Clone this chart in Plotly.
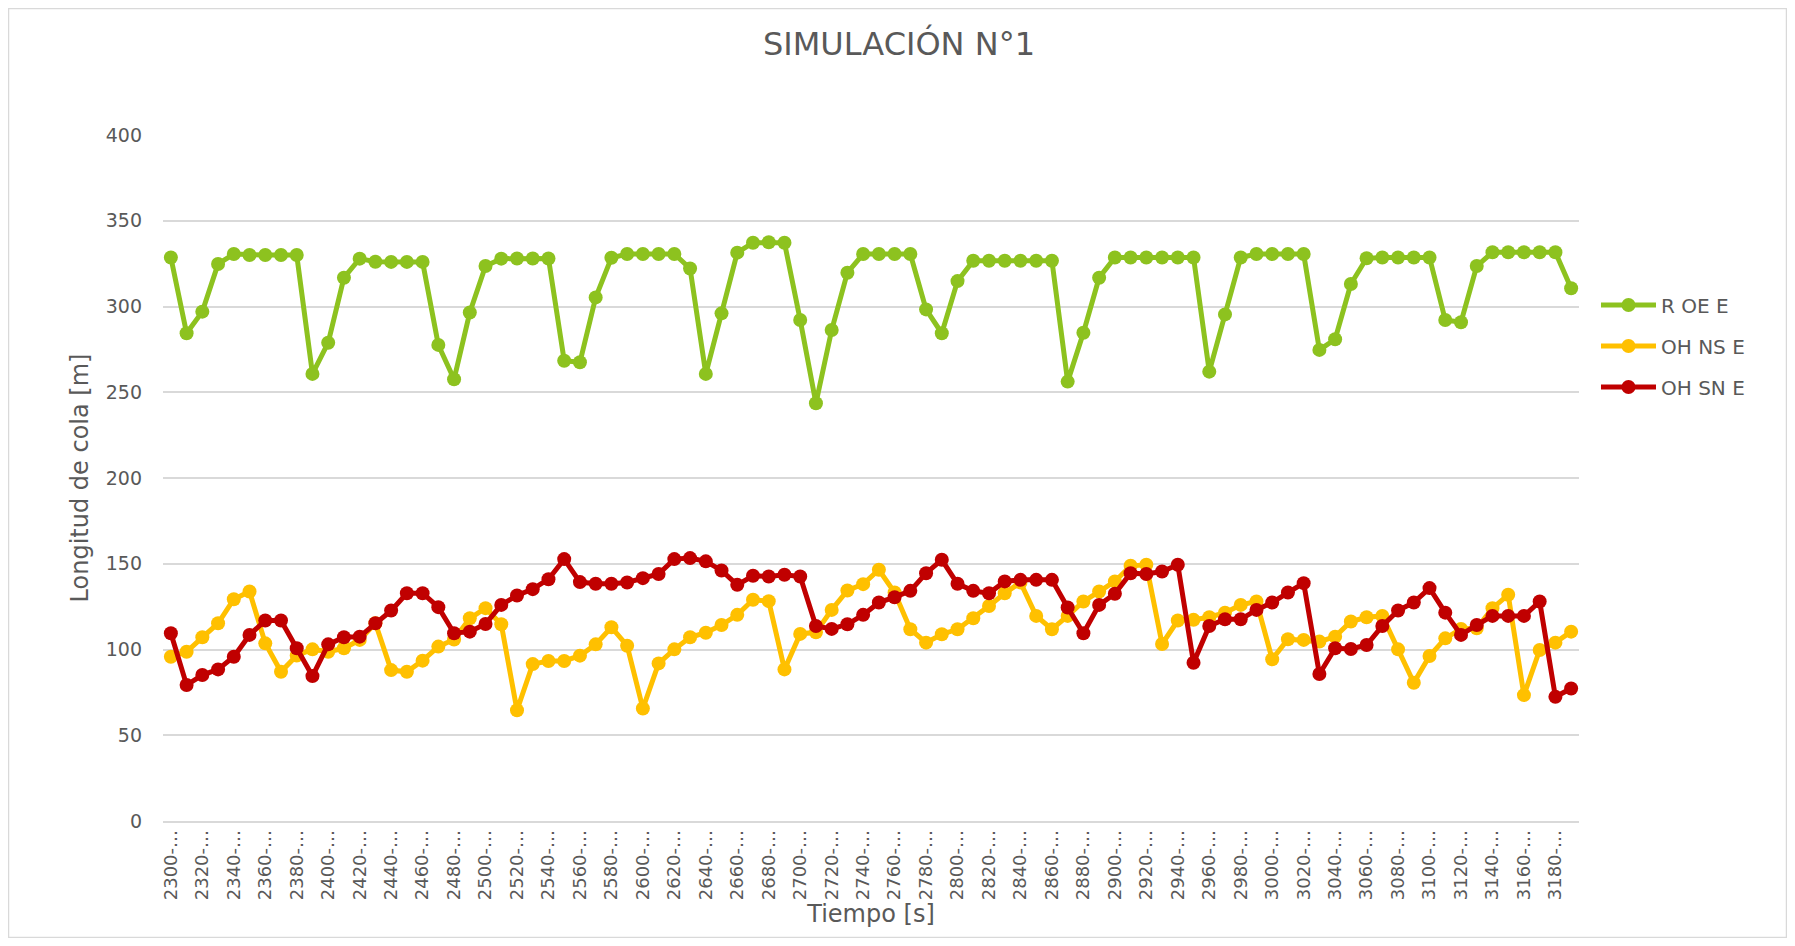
import plotly.graph_objects as go

# --- data -------------------------------------------------------------
start_times = list(range(2300, 3200, 10))
categories = [f"{t}-{t + 10}" for t in start_times]
tick_labels = [f"{t}-…" for t in start_times[::2]]

r_oe_e = [328.6, 284.4, 297.0, 324.8, 330.6, 330.0, 330.0, 330.0, 330.0, 260.7,
          278.9, 316.8, 327.9, 326.1, 326.0, 326.0, 326.0, 277.6, 257.6, 296.5,
          323.6, 327.9, 328.0, 328.0, 328.0, 268.4, 267.5, 305.3, 328.4, 330.6,
          330.6, 330.6, 330.6, 322.2, 260.7, 296.0, 331.4, 337.2, 337.5, 337.2,
          292.1, 243.6, 286.3, 319.7, 330.6, 330.6, 330.6, 330.6, 298.3, 284.4,
          314.8, 326.7, 326.7, 326.7, 326.7, 326.7, 326.7, 256.2, 284.7, 316.8,
          328.6, 328.6, 328.6, 328.6, 328.6, 328.6, 262.0, 295.4, 328.6, 330.6,
          330.6, 330.6, 330.6, 274.7, 280.9, 313.1, 328.1, 328.6, 328.6, 328.6,
          328.6, 292.1, 290.8, 323.6, 331.6, 331.6, 331.6, 331.6, 331.6, 310.6]

oh_ns_e = [95.8, 98.7, 107.1, 115.3, 129.3, 133.8, 103.6, 87.0, 96.5, 100.1,
           98.7, 100.7, 105.6, 115.3, 88.0, 87.0, 93.5, 101.7, 105.8, 118.2,
           124.1, 114.7, 64.6, 91.5, 93.3, 93.3, 96.4, 103.0, 113.0, 102.2,
           65.6, 91.9, 100.1, 107.1, 109.8, 114.3, 120.2, 129.0, 128.2, 88.4,
           109.1, 110.0, 123.1, 134.4, 138.1, 146.5, 133.2, 111.8, 104.0, 108.9,
           111.8, 118.2, 125.4, 132.8, 139.1, 119.6, 111.8, 119.6, 128.0, 133.8,
           139.7, 148.8, 149.4, 103.2, 116.9, 117.3, 118.8, 121.5, 126.0, 128.0,
           94.3, 106.0, 105.6, 104.6, 107.5, 116.3, 118.8, 119.6, 100.1, 80.6,
           96.2, 106.5, 112.0, 112.4, 124.1, 131.9, 73.4, 99.7, 104.0, 110.4]

oh_sn_e = [109.5, 79.3, 85.1, 88.4, 95.8, 108.5, 116.9, 116.9, 100.7, 84.5,
           103.0, 107.1, 107.5, 115.3, 122.7, 132.8, 132.8, 124.7, 109.5, 110.4,
           114.9, 126.0, 131.5, 135.2, 141.0, 152.7, 139.3, 138.3, 138.3, 139.1,
           141.6, 144.0, 152.7, 153.3, 151.4, 146.1, 137.7, 143.0, 142.6, 143.6,
           142.6, 113.7, 112.0, 114.7, 120.2, 127.4, 130.5, 134.2, 144.5, 152.3,
           138.3, 134.2, 132.8, 139.7, 140.6, 140.6, 140.6, 124.5, 109.5, 126.0,
           132.5, 144.5, 144.0, 145.5, 149.4, 92.3, 113.7, 117.6, 117.6, 123.1,
           127.4, 133.2, 138.7, 85.7, 100.7, 100.3, 102.6, 113.7, 122.7, 127.4,
           135.8, 121.5, 108.5, 114.3, 119.6, 119.6, 119.6, 128.0, 72.4, 77.3]

series_names = ["R OE E", "OH NS E", "OH SN E"]
series_values = [r_oe_e, oh_ns_e, oh_sn_e]
series_colors = ["#8DC21F", "#FFC000", "#C00000"]

# --- figure -----------------------------------------------------------
FONT = "DejaVu Sans"
TEXT = "#595959"
GRID = "#D9D9D9"

fig = go.Figure()
for name, vals, col in zip(series_names, series_values, series_colors):
    fig.add_trace(go.Scatter(
        x=categories, y=vals, name=name, legendgroup=name, mode="lines+markers",
        line=dict(color=col, width=5),
        marker=dict(color=col, size=14),
    ))

W, H = 1779, 930
L, T = 155, 127
pw, ph = 1416, 686
R, B = W - L - pw, H - T - ph
y_bottom = T + ph  # pixel row of y=0

fig.update_layout(
    width=W, height=H,
    margin=dict(l=L, r=R, t=T, b=B, autoexpand=False),
    paper_bgcolor="white", plot_bgcolor="white",
    font=dict(family=FONT, color=TEXT, size=19),
    title=dict(text="SIMULACIÓN N°1", x=891 / W, xanchor="center",
               y=1 - 36 / H, yanchor="middle",
               font=dict(family=FONT, size=32, color=TEXT)),
    showlegend=True,
    legend=dict(x=1.012, xanchor="left", y=(y_bottom - 338) / ph,
                yanchor="middle", bgcolor="rgba(0,0,0,0)",
                font=dict(family=FONT, size=20, color=TEXT),
                itemwidth=55, tracegroupgap=12),
    xaxis=dict(
        type="category", categoryorder="array", categoryarray=categories,
        tickmode="array", tickvals=categories[::2], ticktext=tick_labels,
        tickangle=-90, showgrid=False, showline=True, linecolor=GRID, linewidth=1.5,
        ticks="", tickfont=dict(family=FONT, size=18, color=TEXT),
        title=dict(text="Tiempo [s]", font=dict(family=FONT, size=24, color=TEXT), standoff=6),
        range=[-0.5, len(categories) - 0.5],
    ),
    yaxis=dict(
        range=[0, 400], dtick=50, tick0=0, showgrid=True, gridcolor=GRID, gridwidth=1.5,
        zeroline=False, showline=False, ticks="",
        ticklabelstandoff=20,
        tickfont=dict(family=FONT, size=19, color=TEXT),
        title=dict(text="Longitud de cola [m]", font=dict(family=FONT, size=24, color=TEXT), standoff=10),
    ),
    shapes=[dict(type="rect", xref="paper", yref="paper",
                 x0=(0.5 - L) / pw, x1=(W - 0.5 - L) / pw,
                 y0=(y_bottom - (H - 0.5)) / ph, y1=(y_bottom - 0.5) / ph,
                 line=dict(color=GRID, width=1.5), fillcolor="rgba(0,0,0,0)", layer="below")],
)

fig.write_html("out.html")
